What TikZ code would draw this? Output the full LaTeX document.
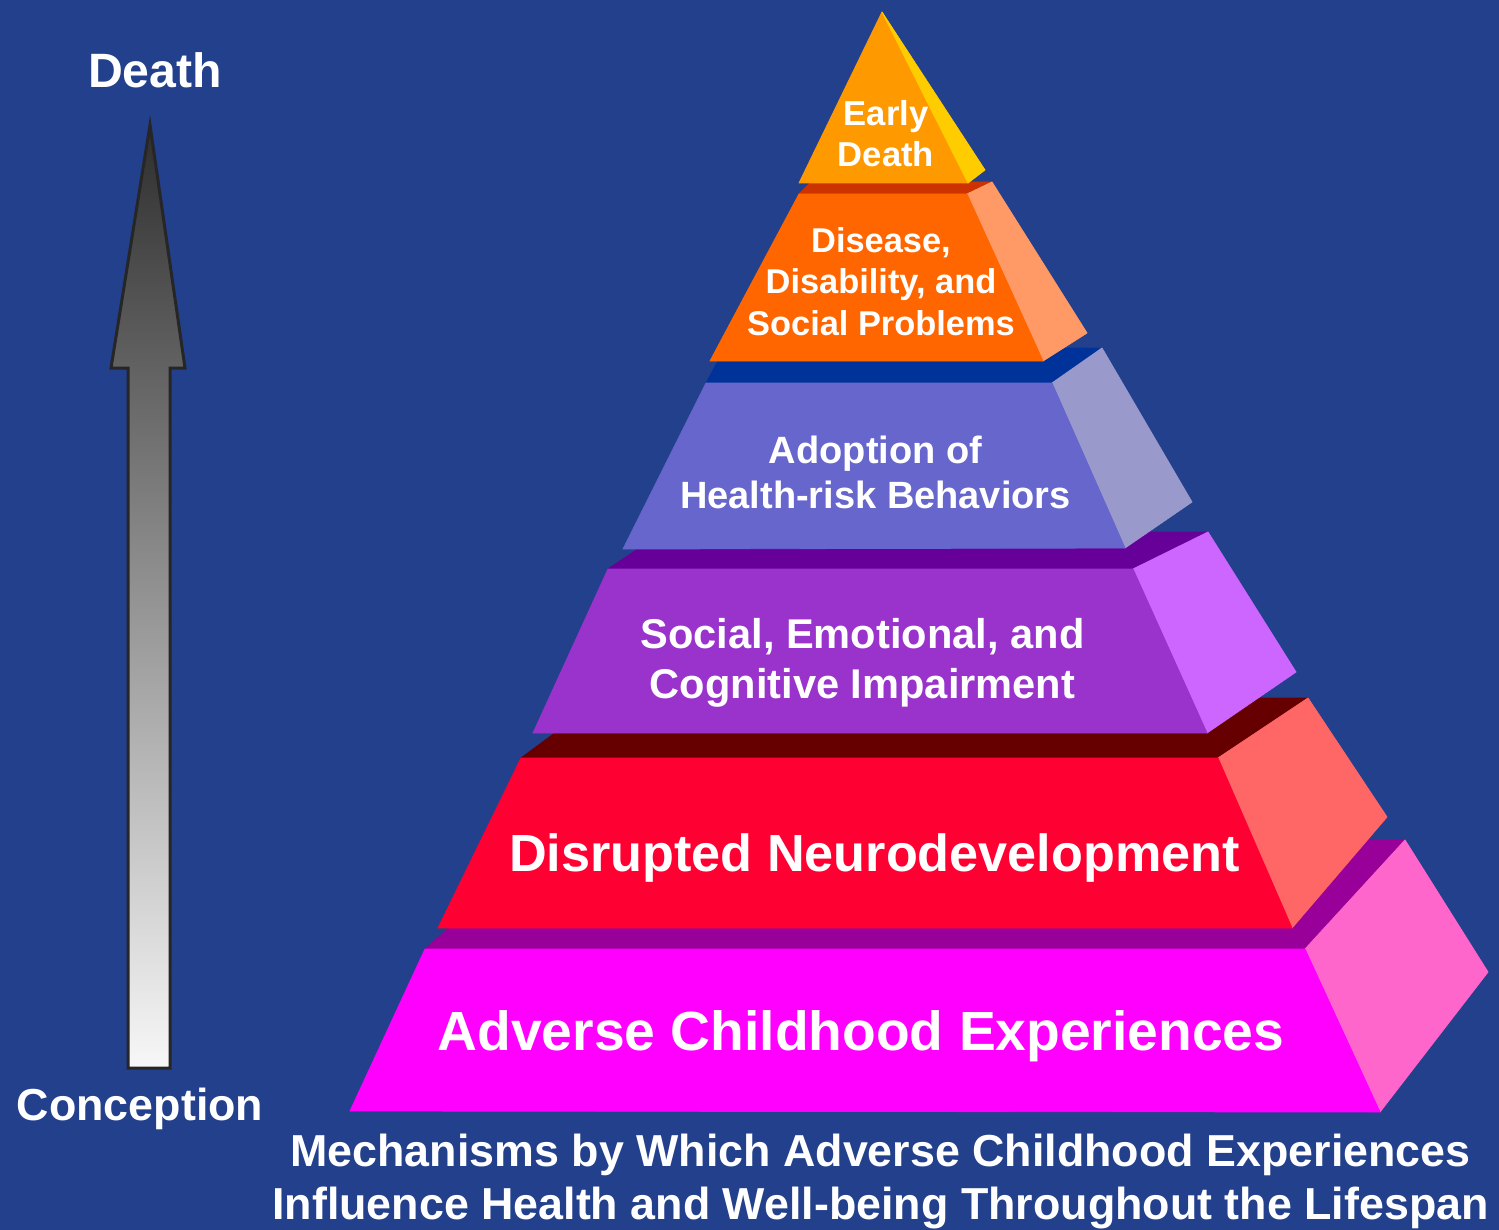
\documentclass[tikz,border=0pt]{standalone}
\usepackage{fontspec}
\setmainfont{Liberation Sans}
\usepackage{xcolor}
\usepackage{tikz}

\definecolor{fondo}{RGB}{35,64,140}
% colores de cada capa: frente, tapa (arriba) y lado
\definecolor{aceFrente}{HTML}{FF00FF}
\definecolor{aceTapa}{HTML}{990099}
\definecolor{aceLado}{HTML}{FF66CC}
\definecolor{neuroFrente}{HTML}{FF0033}
\definecolor{neuroTapa}{HTML}{660000}
\definecolor{neuroLado}{HTML}{FF6666}
\definecolor{socialFrente}{HTML}{9933CC}
\definecolor{socialTapa}{HTML}{660099}
\definecolor{socialLado}{HTML}{CC66FF}
\definecolor{riesgoFrente}{HTML}{6666CC}
\definecolor{riesgoTapa}{HTML}{003399}
\definecolor{riesgoLado}{HTML}{9999CC}
\definecolor{enfFrente}{HTML}{FF6600}
\definecolor{enfTapa}{HTML}{CC3300}
\definecolor{enfLado}{HTML}{FF9966}
\definecolor{muerteFrente}{HTML}{FF9900}
\definecolor{muerteLado}{HTML}{FFCC00}

\begin{document}
\begin{tikzpicture}[x=0.5pt, y=-0.5pt]
      % Definimos algunos estilos
      \tikzstyle{cara}=[line width=0.4pt, line join=round]
      \tikzstyle{rotulo}=[text=white, align=center, inner sep=0pt]
      \tikzstyle{flecha}=[draw=black!85, line width=1.5pt, line join=miter]

      % fondo
      \useasboundingbox (0,0) rectangle (1499,1230);
      \fill[fondo] (0,0) rectangle (1499,1230);

      % flecha de la vida
      \coordinate (punta) at (150,125);
      \coordinate (pie) at (149,1068);
      \shadedraw[flecha, top color=black!82, bottom color=white!97!black]
        (128,1068) -- (128,368) -- (111,368) -- (punta) -- (185,368) -- (170,368) -- (170,1068) -- cycle;
      \node[rotulo, font=\bfseries\fontsize{24.1}{29}\selectfont, anchor=base] (muerte) at (155,88) {Death};
      \node[rotulo, font=\bfseries\fontsize{22.4}{27}\selectfont, anchor=base] (concepcion) at (140,1120) {Conception};

      % Adverse Childhood Experiences
      \filldraw[cara, aceTapa] (425,949) -- (1305,949) -- (1405,840) -- (550,840) -- cycle;
      \filldraw[cara, aceLado] (1305,949) -- (1405,840) -- (1488,972) -- (1380,1112) -- cycle;
      \filldraw[cara, aceFrente] (350,1111) -- (1380,1112) -- (1305,949) -- (425,949) -- cycle;
      \node[rotulo, font=\bfseries\fontsize{27.6}{33}\selectfont, anchor=base] (ace) at (861,1050) {Adverse Childhood Experiences};

      % Disrupted Neurodevelopment
      \filldraw[cara, neuroTapa] (521,758) -- (1218,758) -- (1308,698) -- (602,698) -- cycle;
      \filldraw[cara, neuroLado] (1218,758) -- (1308,698) -- (1387,817) -- (1292,928) -- cycle;
      \filldraw[cara, neuroFrente] (438,928) -- (1292,928) -- (1218,758) -- (521,758) -- cycle;
      \node[rotulo, font=\bfseries\fontsize{26.1}{31}\selectfont, anchor=base] (neuro) at (874.5,871) {Disrupted Neurodevelopment};

      % Social, Emotional, and Cognitive Impairment
      \filldraw[cara, socialTapa] (608,569) -- (1133,569) -- (1208,532) -- (663,532) -- cycle;
      \filldraw[cara, socialLado] (1133,569) -- (1208,532) -- (1296,672) -- (1207,733) -- cycle;
      \filldraw[cara, socialFrente] (533,733) -- (1207,733) -- (1133,569) -- (608,569) -- cycle;
      \node[rotulo, font=\bfseries\fontsize{20.8}{25}\selectfont] (social) at (862.5,662.4) {Social, Emotional, and\\Cognitive Impairment};

      % Adoption of Health-risk Behaviors
      \filldraw[cara, riesgoTapa] (706,383) -- (1052,383) -- (1102,348) -- (725,348) -- cycle;
      \filldraw[cara, riesgoLado] (1052,383) -- (1102,348) -- (1192,502) -- (1125,548) -- cycle;
      \filldraw[cara, riesgoFrente] (623,549) -- (1125,548) -- (1052,383) -- (706,383) -- cycle;
      \node[rotulo, font=\bfseries\fontsize{19}{22.5}\selectfont] (riesgo) at (875.5,472) {Adoption of\\Health-risk Behaviors};

      % Disease, Disability, and Social Problems
      \filldraw[cara, enfTapa] (799,194) -- (967,194) -- (992,182) -- (811,182) -- cycle;
      \filldraw[cara, enfLado] (967,194) -- (992,182) -- (1087,333) -- (1043,361) -- cycle;
      \filldraw[cara, enfFrente] (710,361) -- (1043,361) -- (967,194) -- (799,194) -- cycle;
      \node[rotulo, font=\bfseries\fontsize{17.2}{20.75}\selectfont] (enfermedad) at (881,281.3) {Disease,\\Disability, and\\Social Problems};

      % Early Death (cuspide)
      \filldraw[cara, muerteFrente] (882,12) -- (968,183) -- (799,183) -- cycle;
      \filldraw[cara, muerteLado] (882,12) -- (985,170) -- (968,183) -- cycle;
      \node[rotulo, font=\bfseries\fontsize{17.3}{20.5}\selectfont] (temprana) at (886,133.2) {Early\\Death};

      % titulo
      \node[rotulo, font=\bfseries\fontsize{22.4}{26.5}\selectfont] (titulo) at (880.5,1182) {Mechanisms by Which Adverse Childhood Experiences\\Influence Health and Well-being Throughout the Lifespan};
\end{tikzpicture}
\end{document}
